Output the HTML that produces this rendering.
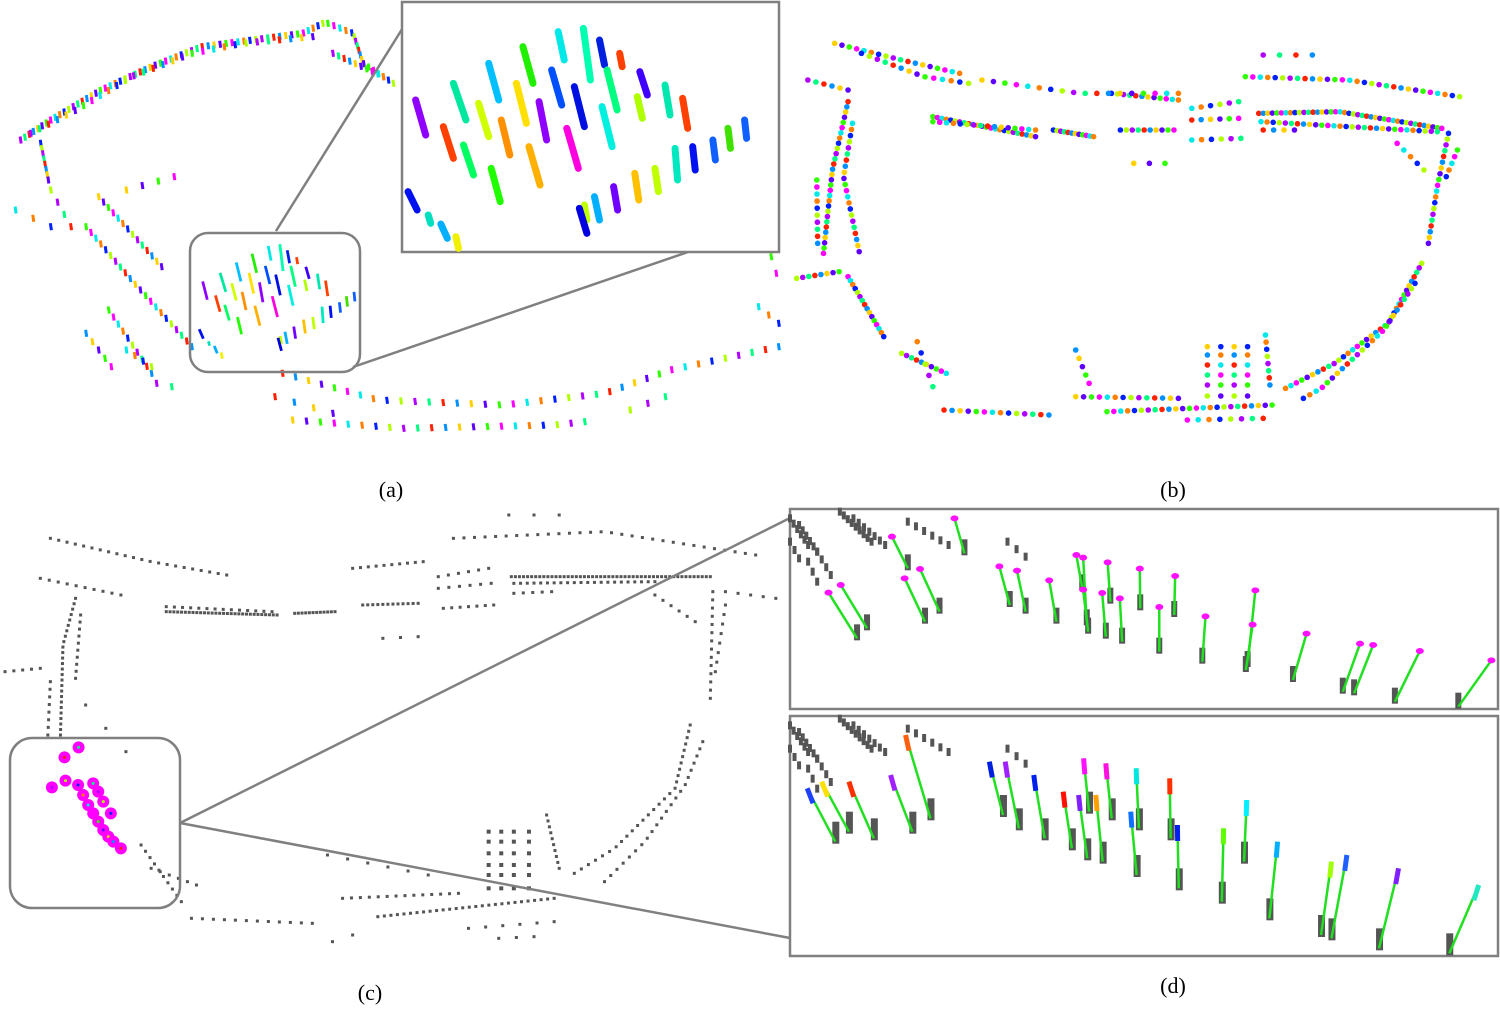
<!DOCTYPE html>
<html><head><meta charset="utf-8">
<style>
html,body{margin:0;padding:0;background:#fff;}
svg{display:block;}
text{font-family:"Liberation Serif",serif;font-size:22px;fill:#000;}
</style></head>
<body>
<svg id="fig" width="1500" height="1025" viewBox="0 0 1500 1025" xmlns="http://www.w3.org/2000/svg">
<g id="pa"></g>
<g id="pb"></g>
<g id="pc"></g>
<g id="pd"></g>
<text x="391" y="497" text-anchor="middle">(a)</text>
<text x="1173" y="497" text-anchor="middle">(b)</text>
<text x="370" y="1000" text-anchor="middle">(c)</text>
<text x="1173" y="993" text-anchor="middle">(d)</text>
</svg>
<script>
const NS="http://www.w3.org/2000/svg";
const palette=['#ff2000','#ff8000','#ffd000','#b0ff00','#30ff00','#00ff80','#00e8e8','#0090ff','#0020ff','#6000ff','#b000ff','#ff00ff'];

const bLines=[
 [[130,215],[95,420],[75,670],30],[[140,280],[120,440],[155,665],22],[[60,450],[62,640],10],
 [[100,40],[250,90],[380,130],18],[[160,70],[300,140],[400,160],14],[[40,150],[130,180],6],
 [[320,260],[550,320],24],[[320,275],[550,300],16],[[590,300],[680,320],12],
 [[720,190],[870,210],12],[[740,300],[860,300],10],
 [[900,235],[1005,215],6],[[900,270],[1005,265],6],[[900,330],[1010,325],6],
 [[1050,250],[1230,245],[1460,295],42],[[1055,275],[1450,305],30],[[1060,300],[1130,300],4],
 [[1020,140],[1250,150],[1500,200],30],[[1060,75],[1170,75],4],
 [[430,150],[650,190],[870,190],18],
 [[1475,310],[1450,470],[1430,640],20],[[1495,360],[1470,440],5],
 [[1415,700],[1340,880],[1220,1000],[1110,1075],35],[[1400,760],[1330,900],[1190,1075],[1150,1105],25],
 [[15,745],[110,725],8],[[130,740],[210,920],16],[[250,970],[350,1030],10],[[285,935],[320,1070],5],
 [[345,1140],[580,1155],14],[[640,1100],[870,1105],14],[[710,1145],[1080,1125],25],[[890,1170],[1060,1165],8],
 [[640,960],[670,1060],5],[[1065,915],[1075,1065],8],[[770,400],[840,400],3],[[1360,340],[1420,420],5]
];
const bGridX=[935,965,995,1025];
const bGridY=[950,975,1005,1035,1065,1098];

const cLines=[
 [[150,280],[125,420],[120,690],26],[[100,530],[95,690],8],[[160,330],[150,520],10],
 [[100,100],[300,170],[450,210],22],[[80,220],[240,270],10],[[10,500],[80,490],5],
 [[330,320],[550,330],30],[[330,305],[540,320],14],[[585,325],[665,320],12],[[720,300],[830,295],12],
 [[880,310],[980,300],7],[[870,215],[970,190],6],[[870,250],[975,235],6],[[700,190],[840,170],10],
 [[1015,215],[1410,215],50],[[1020,235],[1300,230],22],[[1020,265],[1095,260],5],
 [[900,100],[1200,80],[1500,150],30],[[1010,30],[1110,30],3],
 [[1415,260],[1410,580],14],[[1440,300],[1420,500],8],[[1300,270],[1380,350],6],[[1440,260],[1540,280],5],
 [[1370,660],[1340,850],[1220,1030],[1140,1105],28],[[1395,710],[1360,840],[1280,1010],[1200,1130],22],
 [[1085,930],[1110,1090],10],
 [[750,1235],[1100,1180],28],[[680,1180],[910,1165],14],[[380,1240],[620,1255],12],[[930,1270],[1100,1250],6],
 [[280,1020],[360,1190],10],[[300,1090],[390,1140],6],[[650,1050],[850,1110],6],[[760,400],[830,395],3],
 [[990,1300],[1060,1295],3],[[660,1310],[700,1290],2],[[170,600],[250,740],3]
];
const cGridX=[970,995,1020,1050];
const cGridY=[980,1010,1045,1080,1110,1150];
const cMag=[[128,757],[156,727],[103,847],[130,827],[155,840],[165,870],[175,900],[185,925],[195,950],[205,975],[215,995],[225,1010],[240,1030],[185,835],[195,860],[205,890],[220,925]];

const aLines=[
 [[40,420],[100,360],[200,270],[300,200],[400,140],[500,120],[600,100],[640,70],60],
 [[60,400],[150,330],[260,230],[380,160],[480,130],[620,110],30],
 [[650,70],[700,100],[720,190],[780,250],18],[[660,160],[760,230],10],
 [[80,430],[95,540],8],[[170,680],[260,840],[380,1040],22],[[195,590],[320,800],14],
 [[215,930],[300,1120],10],[[250,570],[345,530],4],[[30,630],[100,680],3],[[100,570],[140,680],4],
 [[170,1000],[220,1100],5],[[250,1050],[300,1100],4],[[310,1150],[340,1160],2],
 [[560,1120],[750,1200],[1000,1215],[1200,1180],[1330,1110],[1545,1040],38],
 [[580,1260],[800,1285],[1100,1275],[1160,1265],22],[[545,1190],[660,1240],4],
 [[1530,770],[1540,820],2],[[1505,920],[1545,970],3],[[1250,1230],[1320,1190],3]
];
const aStreakX1=[1108,1158,1190,1230,1038,970,1095,1140,1205,1270,1320,1355,1265,900,1025,1070,1195,825,950,995,1125,880,920,1050,975,1340,1375,1415,1445,1478,1300,1260,1218,1180,1160,1150,810,850,875,905];
const aStreakY1=[95,85,120,160,140,190,210,260,210,215,255,295,290,250,250,305,320,300,310,360,385,380,435,440,505,445,440,420,385,360,505,520,560,590,615,625,575,645,672,710];
const aStreakX2=[1120,1172,1200,1235,1058,990,1115,1160,1225,1285,1330,1365,1275,925,1045,1085,1215,845,970,1012,1148,900,940,1072,993,1345,1380,1420,1450,1482,1307,1268,1226,1190,1165,1165,828,855,888,910];
const aStreakY2=[180,240,195,200,250,300,315,380,330,285,345,385,355,360,370,420,440,405,410,465,505,475,525,555,605,540,510,480,445,415,575,600,630,660,660,700,630,670,715,745];
const aStreakC=['#00e8e8','#00ffb0','#0020e0','#ff4000','#20f000','#00c0ff','#0050ff','#0010e0','#00ff80','#4000ff','#00e8b0','#ff4000','#b0ff00','#00e8a0','#ffe000','#9000ff','#00f0e0','#9000ff','#d0ff00','#ff9000','#ff00e0','#ff4000','#00ff60','#ffb000','#20ff00','#00e8c0','#0010f0','#1060ff','#40e000','#1060ff','#c0ff00','#ffc000','#7000ff','#00b0ff','#c0ff00','#0000e0','#0010f0','#00e0c0','#00b0ff','#f0f000'];

const dTopX1=[85,112,225,253,287,363,462,501,572,632,647,647,689,701,728,772,815,850,917,1027,1021,1140,1258,1287,1390,1548];
const dTopY1=[263,240,95,220,192,40,184,197,226,150,158,254,264,172,280,191,306,213,334,256,359,386,416,420,438,466];
const dTopX2=[148,170,260,298,330,385,485,520,588,645,655,658,697,707,733,773,815,848,910,1010,1006,1110,1220,1245,1335,1475];
const dTopY2=[400,370,190,350,320,145,300,320,350,250,355,380,395,290,410,310,440,330,470,480,495,525,560,565,590,605];
const dBotX1=[38,70,130,222,255,440,475,538,603,637,648,675,697,764,752,838,855,957,1008,1076,1195,1229,1343,1520];
const dBotY1=[850,830,830,810,690,770,770,810,860,870,760,870,775,790,920,820,960,970,885,1010,1070,1050,1090,1140];
const dBotX2=[100,130,185,270,310,470,505,562,622,656,660,690,710,770,765,840,858,953,1002,1058,1172,1195,1300,1455];
const dBotY2=[1010,980,1000,980,940,930,970,1000,1030,1060,920,1070,940,970,1110,1000,1150,1190,1070,1240,1290,1300,1330,1345];
const dBotC=['#2040ff','#ffe000','#ff3000','#a020ff','#ff6010','#0020e0','#a020ff','#0020f0','#ff1000','#8020ff','#ff10ff','#ffa000','#ff10e0','#00e8e0','#1070ff','#ff3000','#0020f0','#60ff00','#00f0ff','#00b0ff','#a0ff00','#2060ff','#8020ff','#20e8c0'];
const dClutter=[[[0,40],[40,120],6],[[20,60],[60,140],6],[[110,20],[180,110],9],[[140,40],[210,120],7],[[260,50],[350,120],6],[[60,140],[90,210],4],[[480,110],[520,155],3],[[0,110],[20,160],3],[[40,170],[60,230],3]];

function mk(tag,attrs,parent,name){const e=document.createElementNS(NS,tag);for(const k in attrs)e.setAttribute(k,attrs[k]);
 
 
 parent.appendChild(e);return e;}
function along(line,fn){const pts=line.slice(0,-1),n=line[line.length-1];
 let L=[0];for(let i=1;i<pts.length;i++)L.push(L[i-1]+Math.hypot(pts[i][0]-pts[i-1][0],pts[i][1]-pts[i-1][1]));
 const T=L[L.length-1];for(let k=0;k<n;k++){const d=n==1?0:T*k/(n-1);let i=1;while(i<pts.length-1&&L[i]<d)i++;
  const t=(d-L[i-1])/((L[i]-L[i-1])||1);fn(pts[i-1][0]+(pts[i][0]-pts[i-1][0])*t,pts[i-1][1]+(pts[i][1]-pts[i-1][1])*t,k);}}

const bx=x=>790+x/2.24, by=y=>30+y/3;
const cx=x=>x/1.985, cy=y=>505+y/3;
const ax=x=>x/1.985, ay=y=>y/3;
const dx=x=>790+x/2.207, dy=y=>505+y/3;

const pb=document.getElementById('pb');let ci=0;
bLines.forEach(l=>along(l,(x,y)=>{mk('circle',{cx:bx(x),cy:by(y),r:2.8,fill:palette[(ci++*7)%12]},pb,'point-b');}));
bGridX.forEach(gx=>bGridY.forEach(gy=>{mk('circle',{cx:bx(gx),cy:by(gy),r:2.8,fill:palette[(ci++*5)%12]},pb,'point-b-grid');}));

const pc=document.getElementById('pc');
cLines.forEach(l=>along(l,(x,y)=>{mk('rect',{x:cx(x)-1.5,y:cy(y)-1.5,width:3,height:3,fill:'#555'},pc,'point-c');}));
cGridX.forEach(gx=>cGridY.forEach(gy=>{mk('rect',{x:cx(gx)-2,y:cy(gy)-2,width:4,height:4,fill:'#555'},pc,'point-c-grid');}));
cMag.forEach((p,i)=>{mk('circle',{cx:cx(p[0]),cy:cy(p[1]),r:6,fill:'#ff00ff'},pc,'detection-marker');
 mk('circle',{cx:cx(p[0]),cy:cy(p[1]),r:1.5,fill:palette[(i*5)%12]},pc,'detection-center');});
mk('rect',{x:10,y:738,width:170,height:170,rx:22,fill:'none',stroke:'#808080','stroke-width':2.5},pc,'zoom-region-c');
mk('line',{x1:180,y1:823,x2:790,y2:518,stroke:'#808080','stroke-width':2.5},pc,'connector-line');
mk('line',{x1:180,y1:823,x2:790,y2:938,stroke:'#808080','stroke-width':2.5},pc,'connector-line');

const pa=document.getElementById('pa');
aLines.forEach(l=>along(l,(x,y)=>{mk('line',{x1:ax(x),y1:ay(y)-3.5,x2:ax(x)+1,y2:ay(y)+3.5,stroke:palette[(ci++*7)%12],'stroke-width':3},pa,'streak-a');}));
const sx=x=>ax(400+(x-820)*0.46), sy=y=>ay(730+(y-80)*0.52);
aStreakX1.forEach((v,i)=>{mk('line',{x1:sx(v),y1:sy(aStreakY1[i]),x2:sx(aStreakX2[i]),y2:sy(aStreakY2[i]),stroke:aStreakC[i],'stroke-width':2.8},pa,'small-streak');});
mk('rect',{x:190,y:233,width:170,height:139,rx:18,fill:'none',stroke:'#808080','stroke-width':2.5},pa,'zoom-region-a');
mk('line',{x1:276,y1:231,x2:404,y2:26,stroke:'#808080','stroke-width':2.5},pa,'connector-line');
mk('line',{x1:353,y1:367,x2:688,y2:252,stroke:'#808080','stroke-width':2.5},pa,'connector-line');
mk('rect',{x:402,y:2,width:377,height:250,fill:'#fff',stroke:'#808080','stroke-width':2.5},pa,'inset-a');
aStreakX1.forEach((v,i)=>{mk('line',{x1:ax(v),y1:ay(aStreakY1[i]),x2:ax(aStreakX2[i]),y2:ay(aStreakY2[i]),stroke:aStreakC[i],'stroke-width':7,'stroke-linecap':'round'},pa,'inset-streak');});

const pd=document.getElementById('pd');
mk('rect',{x:790,y:509,width:708,height:200,fill:'#fff',stroke:'#808080','stroke-width':2.5},pd,'inset-d-top');
mk('rect',{x:790,y:716,width:708,height:240,fill:'#fff',stroke:'#808080','stroke-width':2.5},pd,'inset-d-bottom');
[0,207].forEach(off=>dClutter.forEach(l=>along(l,(x,y)=>{mk('rect',{x:dx(x)-2,y:dy(y)+off-4,width:4,height:8,fill:'#555'},pd,'clutter-d');})));
dTopX1.forEach((v,i)=>{
 mk('rect',{x:dx(dTopX2[i])-3,y:dy(dTopY2[i])-14,width:6,height:16,fill:'#555'},pd,'trunk-d');
 mk('line',{x1:dx(v),y1:dy(dTopY1[i]),x2:dx(dTopX2[i]),y2:dy(dTopY2[i]),stroke:'#20e020','stroke-width':2.5},pd,'pole-line');
 mk('ellipse',{cx:dx(v),cy:dy(dTopY1[i]),rx:4,ry:3,fill:'#ff10ff'},pd,'pole-top-marker');});
dBotX1.forEach((v,i)=>{
 mk('rect',{x:dx(dBotX2[i])-3,y:dy(dBotY2[i])-20,width:7,height:22,fill:'#555'},pd,'trunk-d');
 mk('line',{x1:dx(v),y1:dy(dBotY1[i]),x2:dx(dBotX2[i]),y2:dy(dBotY2[i]),stroke:'#20e020','stroke-width':2.5},pd,'pole-line');
 const ang=Math.atan2(dBotY2[i]-dBotY1[i],dBotX2[i]-dBotX1[i]),L=16;
 mk('line',{x1:dx(v),y1:dy(dBotY1[i]),x2:dx(v)+Math.cos(ang)*L,y2:dy(dBotY1[i])+Math.sin(ang)*L,stroke:dBotC[i],'stroke-width':5},pd,'pole-top-segment');});
</script>
</body></html>
